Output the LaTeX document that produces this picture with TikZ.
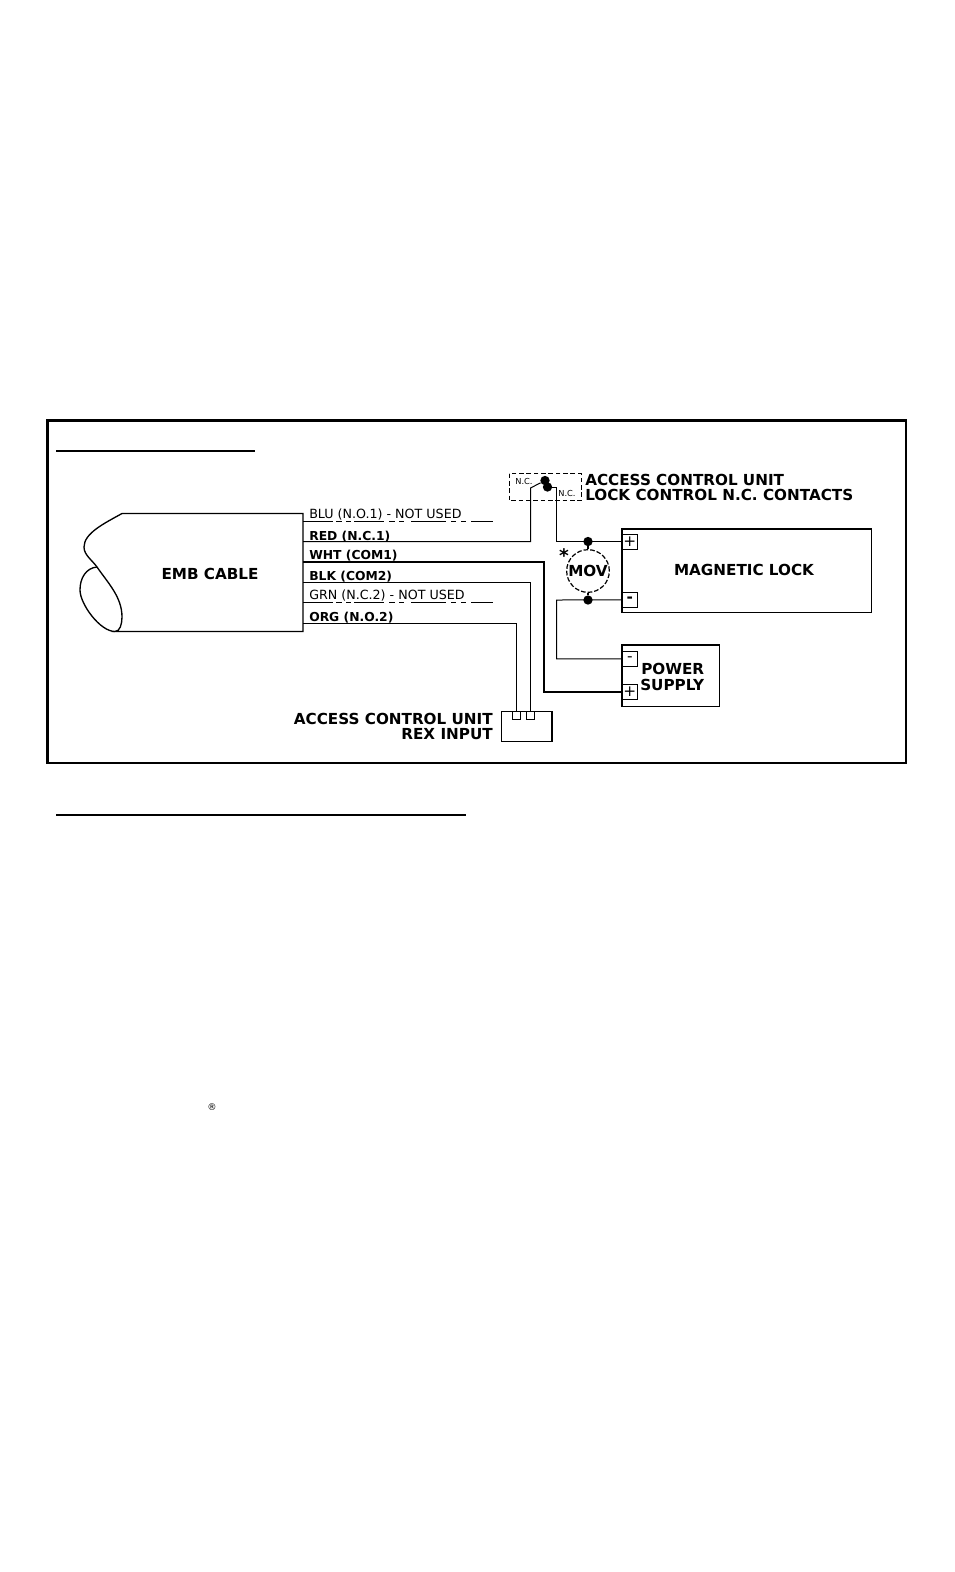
\documentclass[tikz,border=0pt]{standalone}
\usepackage{fontspec}
\setmainfont{DejaVu Sans}
\usetikzlibrary{positioning}
\tikzset{
	unit/.style={draw,anchor=north west,inner sep=0pt,line width=.8pt},
	term/.style={draw,inner sep=0pt,minimum size=11pt,line width=.8pt,font=\fontsize{11.5}{11}\selectfont},
	slot/.style={draw,inner sep=0pt,minimum size=5.5pt,line width=.9pt},
	dot/.style={fill,circle,inner sep=0pt,minimum size=7pt},
	wire/.style={line width=.75pt},
	heavywire/.style={line width=1.5pt},
	unusedwire/.style={line width=.75pt,dash pattern=on 22.5pt off 2.25pt on 4.5pt off 3pt on 3.75pt off 2.25pt on 22.5pt off 3.75pt on 4.5pt off 3pt on 3.75pt off 5.25pt on 26.25pt off 3.75pt on 3.75pt off 3.75pt on 3.75pt off 3.75pt on 20.25pt off 50pt},
	head/.style={font=\fontsize{11.4}{12}\bfseries\selectfont},
	wirelabel/.style={anchor=base west,inner sep=0pt,font=\fontsize{9.25}{10}\bfseries\selectfont},
	thinlabel/.style={anchor=base west,inner sep=0pt,font=\fontsize{9.5}{10}\selectfont},
	small/.style={inner sep=0pt,font=\fontsize{6.2}{7}\selectfont},
}
\begin{document}
\begin{tikzpicture}[x=0.75pt,y=-0.75pt]
\useasboundingbox (0,0) rectangle (954,1572);
\draw[line width=2.2pt] (47.5,420.5) rectangle (906,763);
\draw[line width=1.5pt] (56,450.5) -- (255,450.5);
\draw[line width=1.5pt] (56,814.5) -- (466,814.5);
% cable
\draw[line width=1pt] (303,513.5) -- (122,513.5) .. controls (105,523) and (84,533) .. (84,547) .. controls (84,555) and (92,560) .. (97,567) .. controls (108,583) and (122,597) .. (122,617) .. controls (122,624) and (120,631.5) .. (115,631.5) -- (303,631.5) -- cycle;
\draw[line width=1pt] (97,567) .. controls (86,568) and (80,578) .. (80,590) .. controls (80,604) and (100,631.5) .. (115,631.5);
\node[head] (cable) at (210,573.5) {EMB CABLE};
% units
\node[unit,minimum width=186.75pt,minimum height=62.25pt] (lock) at (622,529) {};
\draw[line width=1.5pt] (lock.south west) |- (lock.north east);
\node[head] (locklabel) at (744,570) {MAGNETIC LOCK};
\node[term,anchor=north west] (lockplus) at (622,534) {+};
\node[term,anchor=north west] (lockminus) at (622,592) {\textbf{-}};
\node[unit,minimum width=72.75pt,minimum height=45.75pt] (supply) at (622,644.5) {};
\draw[line width=1.5pt] (supply.south west) |- (supply.north east);
\node[term,anchor=north west] (supplyminus) at (622,651) {-};
\node[term,anchor=north west] (supplyplus) at (622,684) {+};
\node[head,anchor=base west,inner sep=0pt] (supplya) at (641,674) {POWER};
\node[head,anchor=base west,inner sep=0pt] (supplyb) at (640,690) {SUPPLY};
\node[unit,line width=1.3pt,minimum width=37.9pt,minimum height=22.5pt] (rex) at (500.5,710.5) {};
\node[slot] (rexa) at (516.5,715.5) {};
\node[slot] (rexb) at (530.5,715.5) {};
\node[head,anchor=base east,inner sep=0pt] (rexlabela) at (493,724) {ACCESS CONTROL UNIT};
\node[head,anchor=base east,inner sep=0pt] (rexlabelb) at (493,739) {REX INPUT};
% contacts
\draw[dash pattern=on 3.5pt off 2pt,line width=.7pt] (509,473.5) rectangle (581,500.5);
\node[small] (nca) at (524,481) {N.C.};
\node[small] (ncb) at (567,493) {N.C.};
\node[dot] (conta) at (545,480.5) {};
\node[dot] (contb) at (547.5,487) {};
\node[head,anchor=base west,inner sep=0pt] (contlabela) at (585,485) {ACCESS CONTROL UNIT};
\node[head,anchor=base west,inner sep=0pt] (contlabelb) at (585,500.5) {LOCK CONTROL N.C. CONTACTS};
% mov
\node[draw,dash pattern=on 3.5pt off 1.5pt,circle,line width=.9pt,minimum size=32pt,inner sep=0pt,font=\fontsize{11.4}{12}\bfseries\selectfont] (mov) at (588,571) {MOV};
\node[dot] (movtop) at (588,541.5) {};
\node[dot] (movbot) at (588,600) {};
\node[inner sep=0pt,font=\fontsize{14}{14}\bfseries\selectfont] (star) at (564,556) {*};
\draw[line width=1.3pt] (movtop) -- (mov);
\draw[line width=1.3pt] (movbot) -- (mov);
% wires
\coordinate (blu) at (303,521.5);
\coordinate (red) at (303,541.5);
\coordinate (wht) at (303,561.5);
\coordinate (blk) at (303,582.5);
\coordinate (grn) at (303,602.5);
\coordinate (org) at (303,623.5);
\coordinate (bluend) at (493,521.5);
\coordinate (grnend) at (493,602.5);
\coordinate (redup) at (530.5,488);
\coordinate (whtdown) at (543.5,561.5);
\coordinate (comright) at (556.5,487);
\coordinate (comleft) at (556.5,600);
\draw[unusedwire] (blu) -- (bluend);
\draw[unusedwire] (grn) -- (grnend);
\draw[wire] (red) -| (redup) -- (conta);
\draw[heavywire] (wht) -- (whtdown) |- (supplyplus.west);
\draw[wire] (blk) -| (rexb.north);
\draw[wire] (org) -| (rexa.north);
\draw[wire] (contb) -- (comright) |- (lockplus.west);
\draw[wire] (lockminus.west) -- (comleft) |- (supplyminus.west);
% labels
\node[thinlabel] (blulabel) at (309,518) {BLU (N.O.1) - NOT USED};
\node[wirelabel] (redlabel) at (309,540) {RED (N.C.1)};
\node[wirelabel] (whtlabel) at (309,559.5) {WHT (COM1)};
\node[wirelabel] (blklabel) at (309,580.5) {BLK (COM2)};
\node[thinlabel] (grnlabel) at (309,599.5) {GRN (N.C.2) - NOT USED};
\node[wirelabel] (orglabel) at (309,621.5) {ORG (N.O.2)};
\node[inner sep=0pt,font=\fontsize{7}{7}\selectfont] (regmark) at (212,1107) {®};
\end{tikzpicture}
\end{document}
